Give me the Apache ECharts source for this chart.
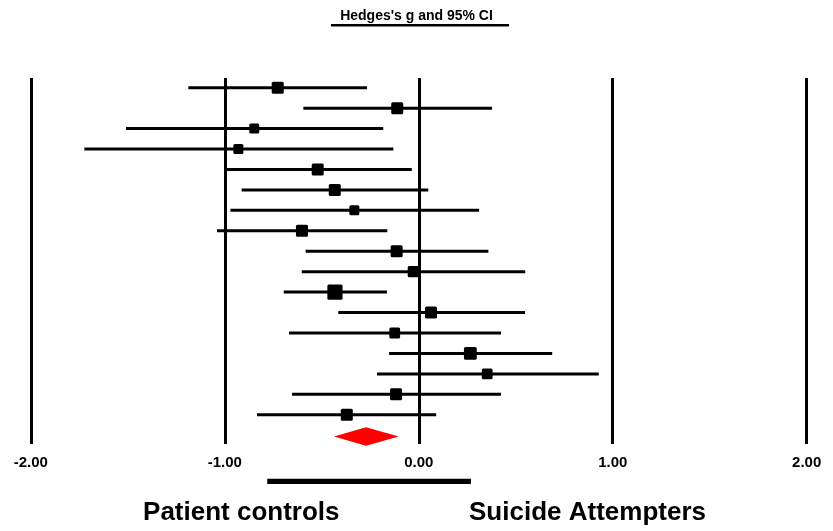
<!DOCTYPE html>
<html><head><meta charset="utf-8">
<script src="https://cdn.jsdelivr.net/npm/echarts@6/dist/echarts.min.js"></script>
<style>html,body{margin:0;padding:0;background:#fff}#c{width:833px;height:531px}</style>
</head><body><div id="c"></div>
<script>
// Study-level Hedges's g with 95% CI (top to bottom)
const effect = [-0.727, -0.111, -0.848, -0.930, -0.521, -0.433, -0.332, -0.602, -0.114, -0.028, -0.432, 0.063, -0.124, 0.266, 0.353, -0.117, -0.371];
const lower  = [-1.188, -0.595, -1.509, -1.724, -1.002, -0.913, -0.971, -1.040, -0.583, -0.603, -0.696, -0.415, -0.669, -0.153, -0.215, -0.653, -0.834];
const upper  = [-0.267, 0.378, -0.183, -0.131, -0.036, 0.049, 0.311, -0.162, 0.359, 0.549, -0.164, 0.548, 0.424, 0.688, 0.928, 0.424, 0.090];
const weight = [6, 6, 5, 5, 6, 6, 5, 6, 6, 5.6, 7.6, 6, 5.4, 6.4, 5.4, 6, 6];
// Pooled estimate
const pooledEffect = [-0.272];
const pooledLower = [-0.437];
const pooledUpper = [-0.103];
// Horizontal bar below the axis
const barRange = [-0.781, 0.269];
const xTicks = [-2, -1, 0, 1, 2];
const sideLabels = ['Patient controls', 'Suicide Attempters'];
const titleText = "Hedges's g and 95% CI";

const FONT = "'Liberation Sans', Arial, Helvetica, sans-serif";
const chart = echarts.init(document.getElementById('c'), null, {renderer: 'canvas'});
const n = effect.length;

const studyData = effect.map((g, i) => [g, i, lower[i], upper[i], weight[i]]);

chart.setOption({
  animation: false,
  backgroundColor: '#fff',
  grid: {left: 30.8, right: 26.3, top: 78, bottom: 87},
  xAxis: {
    type: 'value', min: xTicks[0], max: xTicks[xTicks.length - 1], interval: 1,
    axisLine: {show: false}, axisTick: {show: false},
    splitLine: {show: true, lineStyle: {color: '#000', width: 3}},
    axisLabel: {
      margin: 11, fontSize: 15, fontWeight: 'bold', color: '#000', fontFamily: FONT,
      formatter: v => v.toFixed(2)
    }
  },
  yAxis: {type: 'value', inverse: true, min: -0.475, max: 17.43, show: false},
  series: [
    {
      type: 'custom', name: 'studies', data: studyData,
      encode: {x: [0, 2, 3], y: 1},
      renderItem: (params, api) => {
        const y = api.value(1);
        const p0 = api.coord([api.value(2), y]);
        const p1 = api.coord([api.value(3), y]);
        const c = api.coord([api.value(0), y]);
        const s = api.value(4) * 2;
        return {type: 'group', children: [
          {type: 'line', shape: {x1: p0[0], y1: p0[1], x2: p1[0], y2: p1[1]}, style: {stroke: '#000', lineWidth: 3}},
          {type: 'rect', shape: {x: c[0] - s / 2, y: c[1] - s / 2, width: s, height: s, r: 1.5}, style: {fill: '#000'}}
        ]};
      }
    },
    {
      type: 'custom', name: 'pooled',
      data: pooledEffect.map((g, i) => [g, n, pooledLower[i], pooledUpper[i]]),
      encode: {x: [0, 2, 3], y: 1},
      clip: false,
      renderItem: (params, api) => {
        const y = api.value(1) + 0.06;
        const c = api.coord([api.value(0), y]);
        const l = api.coord([api.value(2), y]);
        const r = api.coord([api.value(3), y]);
        const h = 9.2;
        return {type: 'polygon', shape: {points: [[l[0], c[1]], [c[0], c[1] - h], [r[0], c[1]], [c[0], c[1] + h]]}, style: {fill: '#ff0000'}};
      }
    },
    {
      type: 'custom', name: 'bar',
      data: [[barRange[0], barRange[1], n + 2.26]],
      clip: false,
      renderItem: (params, api) => {
        const y = api.value(2);
        const a = api.coord([api.value(0), y]);
        const b = api.coord([api.value(1), y]);
        return {type: 'line', shape: {x1: a[0], y1: a[1], x2: b[0], y2: b[1]}, style: {stroke: '#000', lineWidth: 5.4}};
      }
    }
  ],
  graphic: [
    {type: 'text', left: 'center', x: 0, style: {text: titleText, x: 419, y: 16, align: 'center', verticalAlign: 'middle', font: 'bold 14px ' + FONT, fill: '#000'}},
    {type: 'line', shape: {x1: 331, y1: 25.3, x2: 509, y2: 25.3}, style: {stroke: '#000', lineWidth: 2.6}},
    {type: 'text', style: {text: sideLabels[0], x: 241.3, y: 512.5, align: 'center', verticalAlign: 'middle', font: 'bold 26px ' + FONT, fill: '#000'}},
    {type: 'text', style: {text: sideLabels[1], x: 587.5, y: 512.5, align: 'center', verticalAlign: 'middle', font: 'bold 26px ' + FONT, fill: '#000'}}
  ]
});
</script></body></html>
